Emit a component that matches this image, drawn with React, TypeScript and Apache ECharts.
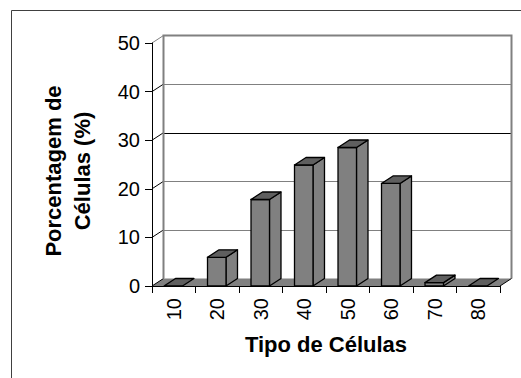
import React, { useEffect, useRef } from "react";
import * as echarts from "echarts";

const categories = ["10", "20", "30", "40", "50", "60", "70", "80"];
const values = [0, 5.9, 17.8, 24.9, 28.5, 21.1, 0.7, 0];
const yTicks = [0, 10, 20, 30, 40, 50];
const yMax = 50;
const xTitle = "Tipo de Células";
const yTitle = "Porcentagem de\nCélulas (%)";

const DX = 11.5;
const DY = -7.5;
const FONT = "Arial, 'Liberation Sans', sans-serif";

const px = (v: number) => Math.round(v) + 0.5;

export default function App() {
  const ref = useRef<HTMLDivElement>(null);
  useEffect(() => {
    if (!ref.current) return;
    const chart = echarts.init(ref.current, undefined, { renderer: "svg" });

    const wallsRender = (params: any, api: any) => {
      const cs = params.coordSys;
      const xL = cs.x;
      const xR = cs.x + cs.width;
      const y0 = api.coord([0, 0])[1];
      const yT = api.coord([0, yMax])[1];
      const children: any[] = [];
      children.push({
        type: "polygon",
        shape: { points: [[xL, y0], [xR, y0], [xR + DX, y0 + DY], [xL + DX, y0 + DY]] },
        style: { fill: "#808080", stroke: null },
      });
      yTicks.forEach((v) => {
        const y = api.coord([0, v])[1];
        if (v > 0 && v < yMax) {
          children.push({
            type: "line",
            shape: { x1: xL + DX, y1: px(y + DY), x2: xR + DX, y2: px(y + DY) },
            style: { stroke: v === 30 ? "#000000" : "#808080", lineWidth: 1 },
          });
        }
        children.push({
          type: "line",
          shape: { x1: xL, y1: y, x2: xL + DX, y2: y + DY },
          style: { stroke: v === yMax ? "#808080" : "#000000", lineWidth: 1 },
        });
      });
      children.push({
        type: "polyline",
        shape: {
          points: [
            [xL + DX, y0 + DY],
            [xL + DX, yT + DY],
            [xR + DX, yT + DY],
            [xR + DX, y0 + DY],
          ],
        },
        style: { stroke: "#808080", lineWidth: 2, fill: null },
      });
      children.push({
        type: "line",
        shape: { x1: xR, y1: y0, x2: xR + DX, y2: y0 + DY },
        style: { stroke: "#000000", lineWidth: 1 },
      });
      return { type: "group", children };
    };

    const barsRender = (params: any, api: any) => {
      const idx = api.value(0);
      const v = api.value(1);
      const top = api.coord([idx, v]);
      const base = api.coord([idx, 0]);
      const cw = api.size([1, 0])[0];
      const w = cw * 0.425;
      const x0 = top[0] - w / 2 - 0.5;
      const x1 = x0 + w;
      const yT = top[1];
      const yB = base[1];
      const children: any[] = [];
      if (yB - yT > 0.5) {
        children.push({
          type: "polygon",
          shape: { points: [[x1, yT], [x1 + DX, yT + DY], [x1 + DX, yB + DY], [x1, yB]] },
          style: { fill: "#808080", stroke: "#000000", lineWidth: 1.3, lineJoin: "round" },
        });
        children.push({
          type: "rect",
          shape: { x: x0, y: yT, width: w, height: yB - yT },
          style: { fill: "#808080", stroke: "#000000", lineWidth: 1.3 },
        });
      }
      children.push({
        type: "polygon",
        shape: { points: [[x0, yT], [x1, yT], [x1 + DX, yT + DY], [x0 + DX, yT + DY]] },
        style: { fill: "#5f5f5f", stroke: "#000000", lineWidth: 1.3, lineJoin: "round" },
      });
      return { type: "group", children };
    };

    chart.setOption({
      animation: false,
      backgroundColor: "#ffffff",
      textStyle: { fontFamily: FONT },
      grid: { left: 152, right: 21, top: 43, bottom: 92 },
      graphic: [
        {
          type: "rect",
          silent: true,
          shape: { x: 11.5, y: 10.5, width: 600, height: 600 },
          style: { fill: null, stroke: "#404040", lineWidth: 1 },
        },
        {
          type: "text",
          silent: true,
          x: 68,
          y: 171,
          rotation: Math.PI / 2,
          style: {
            text: yTitle,
            align: "center",
            verticalAlign: "middle",
            fontSize: 22,
            fontWeight: "bold",
            fontFamily: FONT,
            lineHeight: 29,
            fill: "#000000",
          },
        },
      ],
      xAxis: {
        type: "category",
        data: categories,
        z: 10,
        axisLine: { show: true, lineStyle: { color: "#000000", width: 1 } },
        axisTick: { show: true, length: 7, alignWithLabel: false, lineStyle: { color: "#000000" } },
        axisLabel: { rotate: 90, fontSize: 20, color: "#000000", margin: 12, fontFamily: FONT },
        splitLine: { show: false },
        name: xTitle,
        nameLocation: "middle",
        nameGap: 47,
        nameTextStyle: { fontSize: 22, fontWeight: "bold", color: "#000000", fontFamily: FONT },
      },
      yAxis: {
        type: "value",
        min: 0,
        max: yMax,
        interval: 10,
        z: 10,
        axisLine: { show: true, lineStyle: { color: "#000000", width: 1 } },
        axisTick: { show: true, length: 7, lineStyle: { color: "#000000" } },
        axisLabel: { fontSize: 20, color: "#000000", margin: 12, fontFamily: FONT },
        splitLine: { show: false },
      },
      series: [
        {
          type: "custom",
          z: 1,
          renderItem: wallsRender,
          data: [[0, 0]],
          silent: true,
        },
        {
          type: "custom",
          z: 3,
          renderItem: barsRender,
          data: values.map((v, i) => [i, v]),
          encode: { x: 0, y: 1 },
        },
      ],
    });
    return () => chart.dispose();
  }, []);

  return (
    <div
      ref={ref}
      style={{ position: "absolute", left: 0, top: 0, width: 521, height: 378 }}
    />
  );
}
